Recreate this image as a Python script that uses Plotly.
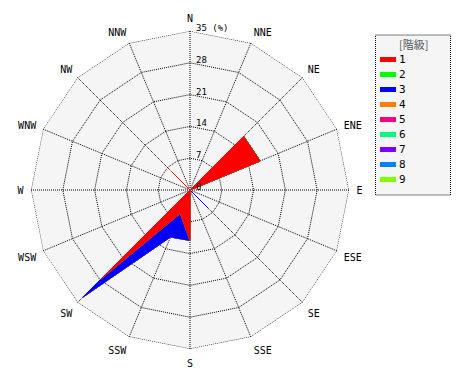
import numpy as np
import plotly.graph_objects as go

directions = ['N', 'NNE', 'NE', 'ENE', 'E', 'ESE', 'SE', 'SSE',
              'S', 'SSW', 'SW', 'WSW', 'W', 'WNW', 'NW', 'NNW']
class_labels = ['1', '2', '3', '4', '5', '6', '7', '8', '9']
class_colors = ['#ff0000', '#00ff00', '#0000ff', '#ff8000', '#ff0080',
                '#00ff80', '#8000ff', '#0080ff', '#80ff00']

# frequency (%) per class and direction
class1 = [0, 0, 16.7, 16.7, 0, 0, 0, 0, 11.1, 5.6, 27.8, 0, 0, 0, 5.6, 0]
class2 = [0] * 16
class3 = [0, 0, 0, 0, 0, 0, 5.6, 0, 0, 5.6, 5.6, 0, 0, 0, 0, 0]
class4 = [0] * 16
class5 = [0] * 16
class6 = [0] * 16
class7 = [0] * 16
class8 = [0] * 16
class9 = [0] * 16
classes = [class1, class2, class3, class4, class5, class6, class7, class8, class9]

radial_ticks = [0, 7, 14, 21, 28, 35]
radial_ticktext = ['0', '7', '14', '21', '28', '35 (%)']
r_max = 35
legend_title = '[階級]'

W, H = 462, 372   # page body has an 8px margin
OFF = 8
cx, cy, R = 190, 190, 159   # polar centre / radius in page pixels

cum = np.cumsum(np.array(classes, dtype=float), axis=0)

fig = go.Figure()

# outer frame of the polar grid (dotted)
fig.add_trace(go.Scatterpolar(
    r=[r_max] * (len(directions) + 1), theta=directions + [directions[0]],
    mode='lines', line=dict(color='black', width=1, dash='1px,1px'),
    showlegend=False, hoverinfo='skip'))

for k in range(len(classes) - 1, -1, -1):
    r = list(cum[k]) + [cum[k][0]]
    th = directions + [directions[0]]
    fig.add_trace(go.Scatterpolar(
        r=r, theta=th, mode='lines', fill='toself',
        fillcolor=class_colors[k], line=dict(color=class_colors[k], width=1),
        name=class_labels[k], showlegend=False, hoverinfo='skip'))

# radial tick labels placed along the north spoke using the radial scale
for v, t in zip(radial_ticks, radial_ticktext):
    yv = cy - R * v / r_max - 3 if v > 0 else cy - 3
    fig.add_annotation(x=195, y=yv, xref='x', yref='y', text=t, showarrow=False,
                       xanchor='left', yanchor='middle', borderpad=0,
                       font=dict(family='DejaVu Sans Mono', size=9, color='black'))

# legend (drawn manually)
leg_y = [59.5 + 15 * i for i in range(len(class_labels))]
fig.add_shape(type='rect', xref='x', yref='y', x0=375.5, x1=450.5, y0=35, y1=195,
              line=dict(color='black', width=1, dash='1px,1px'),
              fillcolor='#f5f5f5', layer='below')
for yc, col, lab in zip(leg_y, class_colors, class_labels):
    fig.add_shape(type='rect', xref='x', yref='y', x0=380, x1=396,
                  y0=yc - 2.5, y1=yc + 2.5, line=dict(width=0), fillcolor=col)
    fig.add_annotation(x=398, y=yc, xref='x', yref='y', text=lab, showarrow=False,
                       xanchor='left', yanchor='middle', borderpad=0,
                       font=dict(family='DejaVu Sans Mono', size=11, color='black'))
fig.add_annotation(x=413, y=44, xref='x', yref='y', text=legend_title, showarrow=False,
                   xanchor='center', yanchor='middle', borderpad=0,
                   font=dict(family='Noto Sans CJK JP', size=11, color='#555'))

fig.update_layout(
    width=W, height=H,
    margin=dict(l=0, r=0, t=0, b=0),
    paper_bgcolor='white', plot_bgcolor='rgba(0,0,0,0)',
    font=dict(family='DejaVu Sans Mono', size=10, color='black'),
    xaxis=dict(range=[OFF, OFF + W], visible=False, fixedrange=True),
    yaxis=dict(range=[OFF + H, OFF], visible=False, fixedrange=True),
    polar=dict(
        domain=dict(x=[(cx - R - OFF) / W, (cx + R - OFF) / W],
                    y=[1 - (cy + R - OFF) / H, 1 - (cy - R - OFF) / H]),
        bgcolor='#f5f5f5',
        gridshape='linear',
        radialaxis=dict(range=[0, r_max], tickvals=radial_ticks,
                        showticklabels=False, showline=False, ticks='', angle=90,
                        gridcolor='black', griddash='1px,1px', gridwidth=1),
        angularaxis=dict(type='category', categoryarray=directions,
                         direction='clockwise', rotation=90,
                         showline=False, ticks='outside', ticklen=5,
                         tickcolor='rgba(0,0,0,0)',
                         gridcolor='black', griddash='1px,1px', gridwidth=1,
                         tickfont=dict(size=10)),
    ),
)

fig.write_html('out.html')
